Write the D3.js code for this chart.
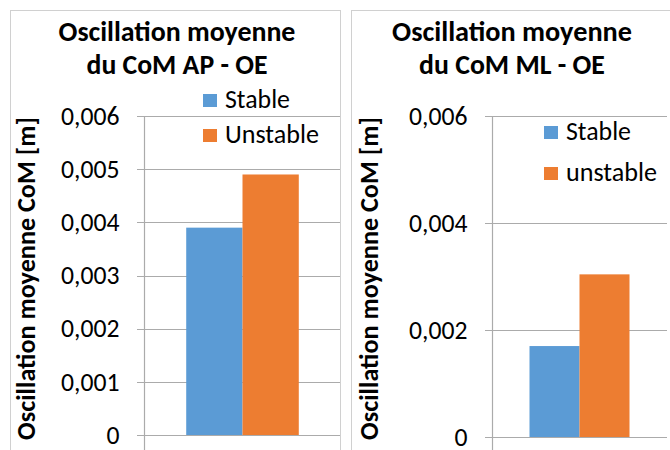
<!DOCTYPE html>
<html>
<head>
<meta charset="utf-8">
<script src="https://cdn.jsdelivr.net/npm/d3@7"></script>
<style>
  html, body { margin: 0; padding: 0; background: #fff; }
  svg { display: block; }
  text { font-family: Carlito, Calibri, Lato, "Open Sans", sans-serif; fill: #000; }
</style>
</head>
<body>
<svg id="chart" width="670" height="450"></svg>
<script>
// ---- data ----
const categories = [""];
const seriesNames = ["Stable", "Unstable"];
const legendNamesRight = ["Stable", "unstable"];
const colors = ["#5b9bd5", "#ed7d31"];
const valuesAP = [0.0039, 0.0049];
const valuesML = [0.0017, 0.00304];
const ticksAP = [0, 0.001, 0.002, 0.003, 0.004, 0.005, 0.006];
const ticksML = [0, 0.002, 0.004, 0.006];
const titleAP = ["Oscillation moyenne", "du CoM AP - OE"];
const titleML = ["Oscillation moyenne", "du CoM ML - OE"];
const yTitle = "Oscillation moyenne CoM [m]";

const svg = d3.select("#chart");
svg.append("rect").attr("width", 670).attr("height", 450).attr("fill", "#fff");

const fmt = v => v === 0 ? "0" : d3.format(".3f")(v).replace(".", ",");

function fit(sel, target) {
  const base = 20;
  sel.style("font-size", base + "px");
  const w = sel.node().getComputedTextLength();
  const size = base * target / w;
  sel.style("font-size", size + "px");
  return size;
}

function panel(cfg) {
  const g = svg.append("g");
  const clipId = "clip" + cfg.id;
  svg.append("clipPath").attr("id", clipId)
    .append("rect").attr("x", cfg.px).attr("y", cfg.py)
    .attr("width", cfg.pw).attr("height", 460);
  const inner = g.append("g").attr("clip-path", `url(#${clipId})`);

  // border
  g.append("rect")
    .attr("x", cfg.px + 0.5).attr("y", cfg.py + 0.5)
    .attr("width", cfg.pw).attr("height", 500)
    .attr("fill", "none").attr("stroke", "#d0d0d0").attr("stroke-width", 1);

  const y = d3.scaleLinear().domain([0, 0.006]).range([cfg.y0, cfg.y1]);
  const x = d3.scaleBand().domain(categories).range([cfg.x0, cfg.x1])
    .paddingInner(0).paddingOuter(0.375);
  const xs = d3.scaleBand().domain(seriesNames).range([0, x.bandwidth()]).padding(0);

  // gridlines
  inner.append("g").selectAll("line").data(cfg.ticks).join("line")
    .attr("x1", cfg.x0 - 7).attr("x2", cfg.x1)
    .attr("y1", d => Math.round(y(d)) + 0.5).attr("y2", d => Math.round(y(d)) + 0.5)
    .attr("stroke", "#ababab").attr("stroke-width", 1.2);

  // bars
  inner.append("g").selectAll("rect").data(cfg.values).join("rect")
    .attr("x", (d, i) => x(categories[0]) + xs(seriesNames[i]))
    .attr("width", xs.bandwidth())
    .attr("y", d => y(d))
    .attr("height", d => y(0) - y(d))
    .attr("fill", (d, i) => colors[i]);

  // y axis
  const axis = d3.axisLeft(y).tickValues(cfg.ticks).tickFormat(fmt)
    .tickSize(7).tickSizeOuter(0).tickPadding(18);
  const ax = inner.append("g").attr("transform", `translate(${Math.round(cfg.x0) + 0.5},0)`).call(axis);
  ax.attr("font-family", null).attr("font-size", null);
  ax.select(".domain").remove();
  ax.selectAll(".tick line").remove();
  const labels = ax.selectAll("text").attr("fill", "#000");
  const widest = labels.filter(d => d === d3.max(cfg.ticks));
  const tsize = fit(widest, 58.5);
  labels.style("font-size", tsize + "px");
  // axis line extended below zero (category axis tick)
  inner.append("line")
    .attr("x1", Math.round(cfg.x0) + 0.5).attr("x2", Math.round(cfg.x0) + 0.5)
    .attr("y1", cfg.y1).attr("y2", 452)
    .attr("stroke", "#ababab").attr("stroke-width", 1.2);

  // titles
  cfg.title.forEach((t, i) => {
    const tt = g.append("text").attr("x", cfg.tcx).attr("y", [41, 74][i])
      .attr("text-anchor", "middle").attr("font-weight", "bold").text(t);
    fit(tt, cfg.tw[i]);
  });

  // y title
  const yt = g.append("text")
    .attr("transform", `translate(${cfg.ytx},278.5) rotate(-90)`)
    .attr("text-anchor", "middle").attr("font-weight", "bold").text(yTitle);
  fit(yt, 323);

  // legend
  cfg.legendNames.forEach((n, i) => {
    const ly = cfg.legY[i];
    g.append("rect").attr("x", cfg.legX).attr("y", ly - 14)
      .attr("width", 14).attr("height", 13).attr("fill", colors[i]);
    const lt = g.append("text").attr("x", cfg.legX + 22).attr("y", ly).text(n);
    fit(lt, cfg.legW[i]);
  });
}

panel({
  id: "AP", px: 10, py: 10, pw: 330,
  x0: 144, x1: 341, y0: 435, y1: 116,
  values: valuesAP, ticks: ticksAP, title: titleAP,
  tcx: 177, tw: [237, 181], ytx: 35,
  legendNames: seriesNames, legX: 203, legY: [108, 143], legW: [65, 94]
});
panel({
  id: "ML", px: 351, py: 10, pw: 330,
  x0: 492, x1: 667, y0: 437, y1: 116,
  values: valuesML, ticks: ticksML, title: titleML,
  tcx: 512, tw: [240, 186], ytx: 378,
  legendNames: legendNamesRight, legX: 544, legY: [140, 181], legW: [65, 91]
});
</script>
</body>
</html>
